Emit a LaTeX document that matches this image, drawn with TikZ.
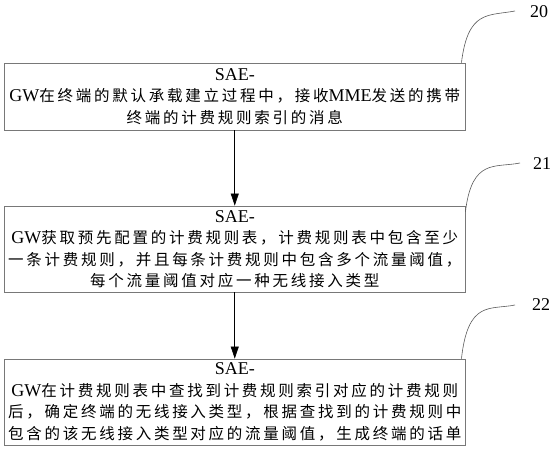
\documentclass[tikz,border=0pt]{standalone}
\usepackage{fontspec}
\setmainfont{Liberation Serif}
\newfontfamily\cjkfont[LetterSpace=17.7]{Noto Sans CJK SC}
\newcommand{\zh}[1]{{\fontsize{15.5}{21.5}\cjkfont #1}}
\usetikzlibrary{arrows.meta}
\definecolor{boxgray}{RGB}{120,120,120}
\definecolor{leadgray}{RGB}{90,90,90}
\tikzset{
  stepbox/.style={draw=boxgray, line width=0.9pt, minimum width=460.5pt, inner sep=0pt,
    align=center, font=\fontsize{18}{21.5}\selectfont},
  flow/.style={draw=black, line width=0.6pt, -{Triangle[length=12pt,width=8pt]}},
  leader/.style={draw=leadgray, line width=0.6pt},
  reflabel/.style={font=\fontsize{18}{20}\selectfont, inner sep=0pt}
}
\begin{document}
\begin{tikzpicture}[x=1pt,y=-1pt]
\useasboundingbox (0,0) rectangle (553,450);
\node[stepbox, minimum height=67pt] (b1) at (234.75,96.5)
  {SAE-\\GW\zh{在终端的默认承载建立过程中，接收}MME\zh{发送的携带}\\\zh{终端的计费规则索引的消息}};
\node[stepbox, minimum height=86pt] (b2) at (234.75,249)
  {SAE-\\GW\zh{获取预先配置的计费规则表，计费规则表中包含至少}\\\zh{一条计费规则，并且每条计费规则中包含多个流量阈值，}\\\zh{每个流量阈值对应一种无线接入类型}};
\node[stepbox, minimum height=86pt] (b3) at (234.75,402)
  {SAE-\\GW\zh{在计费规则表中查找到计费规则索引对应的计费规则}\\\zh{后，确定终端的无线接入类型，根据查找到的计费规则中}\\\zh{包含的该无线接入类型对应的流量阈值，生成终端的话单}};
\draw[flow] (b1.south) -- (b2.north);
\draw[flow] (b2.south) -- (b3.north);
\node[reflabel] (l20) at (539,12) {20};
\node[reflabel] (l21) at (542,164) {21};
\node[reflabel] (l22) at (541,305) {22};
\coordinate (e20) at (515,11);
\coordinate (e21) at (520,163);
\coordinate (e22) at (515,305);
\draw[leader] ([xshift=-4pt]b1.north east) .. controls (468,10) and (488,16) .. (e20);
\draw[leader] ([yshift=-6pt]b2.north east) .. controls (472,158) and (495,168) .. (e21);
\draw[leader] ([xshift=-4pt]b3.north east) .. controls (468,300) and (490,310) .. (e22);
\end{tikzpicture}
\end{document}
